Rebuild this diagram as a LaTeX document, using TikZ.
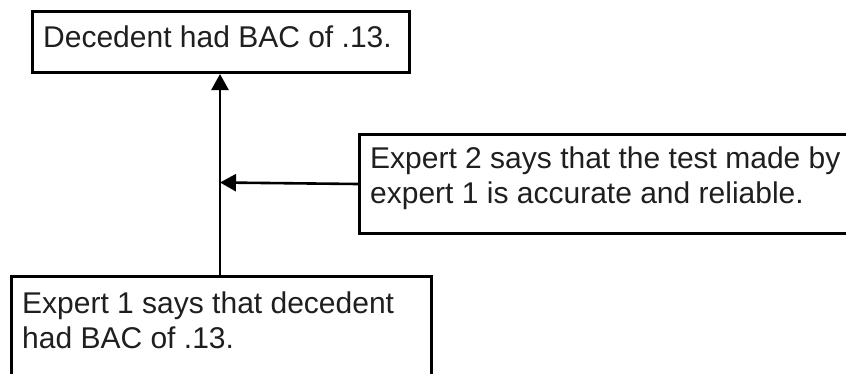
\documentclass[tikz,border=0pt]{standalone}
\usepackage{fontspec}
\setmainfont{Liberation Sans}
\usetikzlibrary{arrows.meta}
\begin{document}
\begin{tikzpicture}[x=1pt,y=-1pt,
  box/.style={draw=black, line width=3pt, fill=white, anchor=north west, inner sep=0pt},
  txt/.style={anchor=base west, inner sep=0pt, align=left, text=black!88,
    font=\fontsize{30pt}{35pt}\selectfont},
  conn/.style={draw=black, line width=2.6pt, -{Triangle[length=16pt,width=17pt]}}]
\useasboundingbox (0,0) rectangle (846,373);
\fill[white] (0,0) rectangle (846,373);
% boxes
\node[box, minimum width=377pt, minimum height=61pt] (top) at (31,10) {};
\node[box, minimum width=510pt, minimum height=99pt] (right) at (358,133) {};
\node[box, minimum width=420pt, minimum height=120pt] (bot) at (10,275) {};
% texts
\node[txt] (ttop) at (43,47) {Decedent had BAC of .13.};
\node[txt] (tright) at (370,168) {Expert 2 says that the test made by};
\node[txt] (tright2) at (370,203) {expert 1 is accurate and reliable.};
\node[txt] (tbot) at (22,313) {Expert 1 says that decedent};
\node[txt] (tbot2) at (22,348) {had BAC of .13.};
% connectors
\coordinate (j) at (220,182.5);
\draw[conn] (bot.north -| j) -- (top.south -| j);
\draw[conn] (right.west) -- (j);
\end{tikzpicture}
\end{document}
